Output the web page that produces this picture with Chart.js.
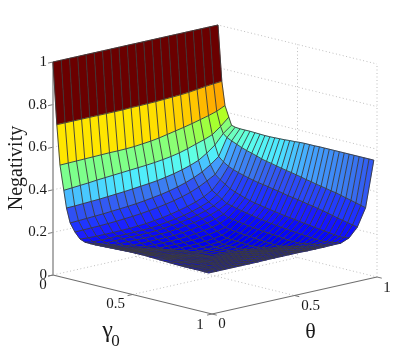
<!DOCTYPE html>
<html><head><meta charset="utf-8">
<style>html,body{margin:0;padding:0;background:#fff}canvas{display:block}</style>
<script src="https://cdn.jsdelivr.net/npm/chart.js@4"></script></head>
<body><canvas id="c" width="415" height="353"></canvas>
<script>
const gammaGrid=[0,.024,.044,.068,.085,.108,.138,.17,.201,.232,.264,.295,.326,.357,.388,.42,.451,.482,.513,.544,.576,.607,.638,.669,.7,.732,.763,.794,.825,.856,.888,.919,.95,.98];
const thetaGrid=[0,.05,.1,.15,.2,.25,.3,.35,.4,.45,.5,.55,.6,.65,.7,.75,.8,.85,.9,.95,1];
const negativity=[
[1,1,1,1,1,1,1,1,1,1,1,1,1,1,1,1,1,1,1,1,1],
[.71,.71,.71,.71,.71,.71,.71,.71,.71,.712,.712,.713,.714,.716,.718,.72,.723,.728,.733,.737,.74],
[.524,.525,.526,.527,.528,.529,.53,.53,.531,.533,.537,.541,.547,.555,.563,.571,.58,.59,.6,.612,.63],
[.41,.413,.416,.419,.423,.426,.429,.432,.435,.438,.441,.445,.45,.456,.464,.475,.488,.5,.515,.545,.58],
[.33,.331,.333,.335,.337,.34,.343,.346,.35,.354,.358,.363,.37,.378,.388,.4,.415,.44,.47,.515,.545],
[.264,.266,.268,.27,.272,.275,.278,.281,.285,.29,.296,.302,.31,.32,.332,.347,.365,.39,.42,.5,.54],
[.227,.228,.229,.23,.232,.234,.237,.24,.244,.249,.255,.262,.27,.28,.292,.308,.328,.35,.4,.49,.538],
[.2,.197,.196,.196,.196,.197,.198,.2,.203,.208,.214,.221,.23,.24,.252,.268,.29,.33,.385,.48,.538],
[.191,.184,.184,.184,.185,.185,.186,.187,.189,.193,.199,.205,.213,.223,.235,.25,.275,.315,.375,.47,.538],
[.19,.181,.177,.177,.178,.178,.178,.179,.181,.184,.189,.195,.202,.211,.222,.237,.26,.3,.367,.462,.537],
[.19,.182,.173,.17,.17,.17,.17,.17,.172,.174,.178,.184,.19,.199,.209,.224,.245,.29,.36,.455,.536],
[.191,.182,.173,.165,.16,.16,.16,.16,.161,.162,.166,.171,.177,.185,.195,.209,.239,.282,.354,.448,.535],
[.192,.183,.173,.165,.156,.15,.15,.15,.15,.151,.154,.158,.164,.171,.181,.199,.233,.274,.348,.44,.535],
[.193,.184,.173,.165,.156,.148,.14,.14,.14,.14,.142,.146,.151,.158,.167,.195,.228,.267,.343,.434,.536],
[.194,.184,.174,.165,.156,.148,.139,.131,.13,.13,.131,.134,.138,.145,.163,.191,.223,.261,.339,.43,.537],
[.195,.185,.174,.165,.156,.148,.139,.131,.122,.122,.122,.124,.128,.137,.16,.187,.218,.257,.335,.424,.538],
[.196,.186,.175,.165,.156,.148,.139,.131,.122,.117,.117,.119,.122,.136,.157,.183,.213,.252,.33,.419,.54],
[.197,.187,.176,.166,.156,.148,.139,.131,.122,.117,.117,.118,.121,.134,.155,.18,.209,.248,.326,.414,.541],
[.197,.188,.177,.167,.156,.148,.139,.131,.122,.117,.117,.117,.12,.132,.153,.177,.206,.244,.321,.41,.543],
[.197,.188,.177,.167,.156,.148,.139,.131,.122,.117,.117,.117,.119,.13,.15,.174,.202,.24,.316,.405,.544],
[.197,.188,.177,.167,.157,.148,.139,.131,.122,.121,.121,.121,.122,.129,.148,.172,.199,.236,.312,.4,.544],
[.196,.187,.177,.167,.157,.148,.139,.131,.126,.126,.126,.126,.126,.129,.146,.17,.196,.233,.308,.394,.544],
[.195,.187,.176,.167,.157,.148,.139,.131,.131,.131,.131,.131,.13,.133,.145,.168,.194,.23,.304,.39,.545],
[.194,.186,.176,.167,.157,.148,.139,.137,.137,.137,.137,.137,.136,.137,.143,.165,.191,.226,.299,.384,.545],
[.193,.185,.175,.167,.157,.148,.142,.142,.142,.142,.142,.142,.141,.141,.142,.162,.189,.223,.295,.38,.545],
[.192,.184,.175,.166,.157,.148,.148,.148,.148,.148,.148,.148,.147,.147,.148,.161,.186,.22,.29,.375,.545],
[.191,.183,.174,.166,.156,.153,.153,.153,.153,.153,.153,.153,.152,.152,.152,.16,.184,.216,.285,.37,.545],
[.19,.182,.173,.165,.159,.159,.159,.159,.159,.159,.159,.159,.158,.158,.158,.163,.182,.213,.28,.366,.545],
[.19,.182,.173,.164,.164,.164,.164,.164,.164,.164,.164,.164,.163,.163,.163,.167,.18,.21,.274,.36,.545],
[.19,.182,.173,.169,.169,.169,.169,.169,.169,.169,.169,.169,.168,.168,.168,.171,.178,.207,.268,.354,.545],
[.19,.182,.174,.174,.174,.174,.174,.174,.174,.174,.174,.174,.173,.173,.173,.175,.18,.204,.263,.348,.545],
[.19,.182,.179,.179,.179,.179,.179,.179,.179,.179,.179,.179,.178,.178,.178,.179,.183,.201,.258,.342,.545],
[.189,.184,.184,.184,.184,.184,.185,.185,.185,.185,.185,.185,.184,.184,.184,.185,.187,.203,.253,.336,.545],
[.189,.189,.189,.189,.189,.189,.189,.19,.19,.19,.19,.19,.189,.189,.189,.19,.19,.206,.248,.33,.545]];
const zTicks=[0,.2,.4,.6,.8,1];
const zTickLabels=['0','0.2','0.4','0.6','0.8','1'];
const gammaTicks=[0,.5,1];
const thetaTicks=[0,.5,1];
const colorZ=[.14,.19,.22,.27,.33,.357,.40,.43,.47,.50,.525,.56,.60,.66,.71,.73,.76,.85,.95];
const colorHex=['#0000f2','#0a0aff','#1a1aff','#2038ff','#3050f4','#3a78f0','#45a5ff','#4de8ff','#5cffea','#6cffc0','#7dff8c','#8dff70','#a5ff30','#e0ff00','#ffe600','#ffb400','#ff8000','#d01000','#6b0000'];

// orthographic view: a point (gamma, theta, z) on the picture plane
const O={x:53,y:275},G={x:159,y:39},T={x:165,y:-37},Z={x:0,y:-213};
const P=(g,t,z)=>({x:O.x+G.x*g+T.x*t+Z.x*z,y:O.y+G.y*g+T.y*t+Z.y*z});
const rgb=h=>[1,3,5].map(i=>parseInt(h.substr(i,2),16));
function colorOf(z){
  if(z<=colorZ[0])return colorHex[0];
  for(let i=1;i<colorZ.length;i++){if(z<=colorZ[i]){
    const f=(z-colorZ[i-1])/(colorZ[i]-colorZ[i-1]),a=rgb(colorHex[i-1]),b=rgb(colorHex[i]);
    return 'rgb('+a.map((v,k)=>Math.round(v+(b[k]-v)*f)).join(',')+')';}}
  return colorHex[colorHex.length-1];
}
const ds=[];
const seg=(pts,color,w,dash,order)=>ds.push({data:pts,showLine:true,pointRadius:0,borderColor:color,borderWidth:w,borderDash:dash||[],order:order,clip:false,fill:false,tension:0});
const DOT=[1,2.5],GC='#bdbdbd';
// back walls and floor
for(const z of zTicks){
  seg([P(0,0,z),P(0,1,z),P(1,1,z)],GC,1,DOT,5);
}
for(const v of [.5]){
  seg([P(v,0,0),P(v,1,0),P(v,1,1)],GC,1,DOT,5);
  seg([P(0,v,1),P(0,v,0),P(1,v,0)],GC,1,DOT,5);
}
seg([P(1,1,0),P(1,1,1)],GC,1,DOT,5);
seg([P(0,1,0),P(0,1,1)],GC,1,DOT,5);
// axes and ticks
seg([P(0,0,0),P(0,0,1)],'#9a9a9a',1.6,[],4);
seg([P(0,0,0),P(1,0,0),P(1,1,0)],'#6e6e6e',1.1,[],4);
for(const z of zTicks)seg([P(0,0,z),P(0,-.03,z)],'#777',1,[],4);
for(const g of gammaTicks)seg([P(g,0,0),P(g,-.03,0)],'#777',1,[],4);
for(const t of thetaTicks)seg([P(1,t,0),P(1.03,t,0)],'#777',1,[],4);
// surface cells
const surfacePts=[];
gammaGrid.forEach((g,i)=>thetaGrid.forEach((t,j)=>surfacePts.push(P(g,t,negativity[i][j]))));
ds.push({label:'surface',data:surfacePts,pointRadius:0,showLine:false,order:3,clip:false});
// mesh lines
const MESH='rgba(58,58,58,.9)';
gammaGrid.forEach((g,i)=>seg(thetaGrid.map((t,j)=>P(g,t,negativity[i][j])),MESH,1,[],1));
thetaGrid.forEach((t,j)=>seg(gammaGrid.map((g,i)=>P(g,t,negativity[i][j])),MESH,1,[],1));

const surfacePlugin={id:'surface',
  afterDatasetDraw(chart,args){
    if(chart.data.datasets[args.index].label!=='surface')return;
    const c=chart.ctx,pts=args.meta.data,n=thetaGrid.length;
    c.save();
    for(let i=0;i<gammaGrid.length-1;i++)for(let j=0;j<n-1;j++){
      const a=pts[i*n+j],b=pts[i*n+j+1],d=pts[(i+1)*n+j+1],e=pts[(i+1)*n+j];
      const col=colorOf(negativity[i][j]);
      c.fillStyle=col;c.strokeStyle=col;c.lineWidth=.5;
      c.beginPath();c.moveTo(a.x,a.y);c.lineTo(b.x,b.y);c.lineTo(d.x,d.y);c.lineTo(e.x,e.y);c.closePath();c.fill();c.stroke();
    }
    c.restore();
  },
  afterDraw(chart){
    const c=chart.ctx,sx=chart.scales.x,sy=chart.scales.y;
    const at=(p,dx,dy,txt,font,rot)=>{
      c.save();c.font=font;c.fillStyle='#1a1a1a';c.textAlign='center';c.textBaseline='middle';
      c.translate(sx.getPixelForValue(p.x)+dx,sy.getPixelForValue(p.y)+dy);
      if(rot)c.rotate(rot);c.fillText(txt,0,0);c.restore();};
    const F='15px "Liberation Serif"';
    zTicks.forEach((z,i)=>{
      c.save();c.font=F;c.fillStyle='#1a1a1a';c.textAlign='right';c.textBaseline='middle';
      const p=P(0,0,z);c.fillText(zTickLabels[i],sx.getPixelForValue(p.x)-6,sy.getPixelForValue(p.y));c.restore();});
    at(P(0,0,0),-10,10,'0',F);
    at(P(.5,0,0),-17,10,'0.5',F);
    at(P(1,0,0),-12,11,'1',F);
    at(P(1,0,0),10,10,'0',F);
    at(P(1,.5,0),16,11,'0.5',F);
    at(P(1,1,0),10,11,'1',F);
    at(P(.5,0,0),-25,36,'γ','24px "Liberation Serif"');
    at(P(.5,0,0),-17,47,'0','17px "Liberation Serif"');
    at(P(1,.5,0),16,37,'θ','22px "Liberation Serif"');
    at({x:17,y:168},0,0,'Negativity','20px "Liberation Serif"',-Math.PI/2);
  }};
new Chart(document.getElementById('c'),{type:'scatter',data:{datasets:ds},plugins:[surfacePlugin],
 options:{responsive:false,animation:false,events:[],layout:{padding:0},
  plugins:{legend:{display:false},tooltip:{enabled:false}},
  scales:{x:{type:'linear',min:0,max:415,display:false},y:{type:'linear',min:0,max:353,reverse:true,display:false}}}});
</script></body></html>
